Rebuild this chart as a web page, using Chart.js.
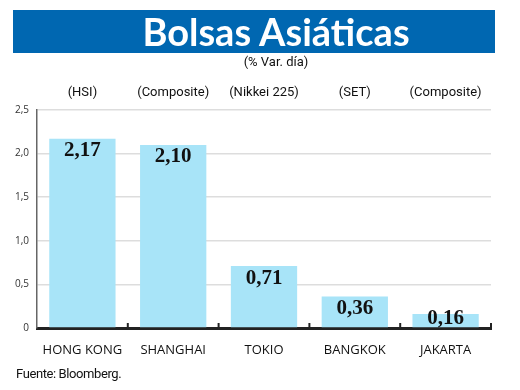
<!DOCTYPE html>
<html>
<head>
<meta charset="utf-8">
<script src="https://cdn.jsdelivr.net/npm/chart.js@4"></script>
<style>
  html, body { margin: 0; padding: 0; background: #fff; }
  #wrap { position: relative; width: 520px; height: 390px; overflow: hidden; }
  #chart { position: absolute; left: 0; top: 0; }
  .banner { position: absolute; left: 13px; top: 10px; width: 482px; height: 43px; background: #0067b1; }
  .title { position: absolute; left: 13px; top: 8px; width: 526px; text-align: center; color: #fff;
           font: bold 38px "Lato", sans-serif; line-height: 46px; }
  .sub { position: absolute; left: 0; top: 54px; width: 552px; text-align: center; color: #111;
         font: 13px "Roboto", sans-serif; }
  .foot { position: absolute; left: 16px; top: 366px; color: #111;
          font: 13px "Roboto", sans-serif; letter-spacing: -0.4px; }
</style>
</head>
<body>
<div id="wrap">
  <canvas id="chart" width="520" height="390"></canvas>
  <div class="banner"></div>
  <div class="title">Bolsas Asiáticas</div>
  <div class="sub">(% Var. día)</div>
  <div class="foot">Fuente: Bloomberg.</div>
</div>
<script>
// datos
const ciudades = ['HONG KONG', 'SHANGHAI', 'TOKIO', 'BANGKOK', 'JAKARTA'];
const indices = ['(HSI)', '(Composite)', '(Nikkei 225)', '(SET)', '(Composite)'];
const variacion = [2.17, 2.10, 0.71, 0.36, 0.16];
const ticksY = [0, 0.5, 1.0, 1.5, 2.0, 2.5];

function coma(v, dec) {
    if (v === 0) return '0';
    return v.toFixed(dec).replace('.', ',');
}

// valores dentro de las barras
const etiquetas = {
    id: 'etiquetas',
    afterDatasetsDraw(chart) {
        const ctx = chart.ctx;
        const meta = chart.getDatasetMeta(0);
        const base = chart.scales.y.getPixelForValue(0);
        ctx.save();
        ctx.fillStyle = '#111';
        ctx.font = 'bold 21px "Liberation Serif", serif';
        ctx.textAlign = 'center';
        ctx.textBaseline = 'middle';
        meta.data.forEach(function(bar, i) {
            ctx.fillText(coma(variacion[i], 2), bar.x, Math.min(bar.y + 12, base - 9));
        });
        ctx.restore();
    }
};

// marcas hacia arriba en el eje x
const marcas = {
    id: 'marcas',
    afterDatasetsDraw(chart) {
        const x = chart.scales.x;
        const y0 = chart.scales.y.getPixelForValue(0);
        const ctx = chart.ctx;
        ctx.save();
        ctx.strokeStyle = '#222';
        ctx.lineWidth = 2;
        for (let i = 0; i < ciudades.length; i++) {
            const px = i < ciudades.length - 1
                ? (x.getPixelForValue(i) + x.getPixelForValue(i + 1)) / 2
                : x.right;
            ctx.beginPath();
            ctx.moveTo(px, y0 + 1);
            ctx.lineTo(px, y0 - 5);
            ctx.stroke();
        }
        ctx.restore();
    }
};

document.addEventListener('DOMContentLoaded', function() {
    const ctx = document.getElementById('chart');
    new Chart(ctx.getContext('2d'), {
        type: 'bar',
        data: {
            labels: ciudades,
            datasets: [{
                data: variacion,
                backgroundColor: '#a8e4f8',
                borderWidth: 0,
                barPercentage: 0.73,
                categoryPercentage: 1.0
            }]
        },
        options: {
            responsive: false,
            animation: false,
            layout: { padding: { top: 80, right: 29, bottom: 22, left: 0 } },
            plugins: { legend: { display: false }, tooltip: { enabled: false } },
            scales: {
                x: {
                    grid: { display: false },
                    border: { display: true, color: '#222', width: 3 },
                    ticks: { color: '#111', padding: 6, maxRotation: 0, minRotation: 0, autoSkip: false,
                             font: { family: '"Open Sans", sans-serif', size: 13 } },
                    afterFit: function(s) { s.height = 40; }
                },
                x2: {
                    type: 'category',
                    position: 'top',
                    labels: indices,
                    grid: { display: false, drawTicks: false },
                    border: { display: false },
                    ticks: { color: '#111', padding: 9, maxRotation: 0, minRotation: 0, autoSkip: false,
                             font: { family: '"Roboto", sans-serif', size: 13 } },
                    afterFit: function(s) { s.height = 30; }
                },
                y: {
                    min: 0,
                    max: 2.5,
                    afterBuildTicks: function(s) { s.ticks = ticksY.map(function(v) { return { value: v }; }); },
                    grid: { color: '#dddddd', lineWidth: 1.5, drawTicks: false },
                    border: { display: true, color: '#666', width: 1.5 },
                    ticks: {
                        color: '#333',
                        padding: 8,
                        font: { family: '"Open Sans", sans-serif', size: 10 },
                        callback: function(v) { return coma(v, 1); }
                    },
                    afterFit: function(s) { s.width = 37; }
                }
            }
        },
        plugins: [etiquetas, marcas]
    });
});
</script>
</body>
</html>
